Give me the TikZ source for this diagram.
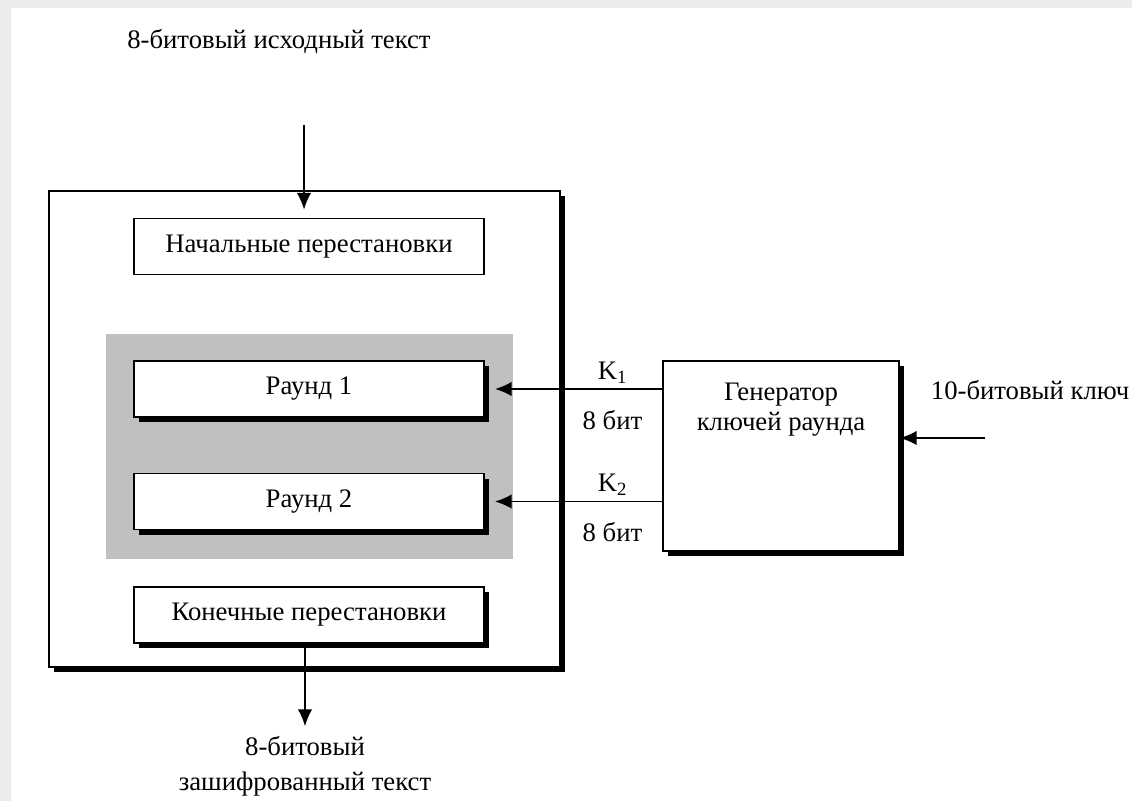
\documentclass[tikz,border=0pt]{standalone}
\usepackage{fontspec}
\setmainfont{Liberation Serif}
\usetikzlibrary{arrows.meta,shadows}
\definecolor{roundgray}{RGB}{192,192,192}
\tikzset{
    blk/.style={draw, fill=white, line width=1.2pt, minimum width=8.75cm, minimum height=1.4cm},
    shd/.style={drop shadow={shadow xshift=.13cm, shadow yshift=-.13cm, fill=black, opacity=1}},
    arr/.style={line width=1.2pt, -{Latex[length=.42cm, width=.36cm]}}
}

\begin{document}
\begin{tikzpicture}[x=0.025cm, y=-0.025cm, font=\fontsize{19}{24}\selectfont]

% page with grey edge
\fill[gray!15] (0,0) rectangle (1132,801);
\fill[white] (11,8) rectangle (1132,801);
\useasboundingbox (0,0) rectangle (1132,801);

% cipher frame and round area
\node[draw, fill=white, line width=1.2pt, shd, minimum width=12.775cm, minimum height=11.9cm] (sdes) at (304.5,429) {};
\node[fill=roundgray, minimum width=10.175cm, minimum height=5.625cm] (rounds) at (309.5,446.5) {};

% stages
\node[blk] (ip) at (309,246.5) {Начальные перестановки};
\node[blk, shd] (r1) at (309,389) {Раунд 1};
\node[blk, shd] (r2) at (309,501.5) {Раунд 2};
\node[blk, shd] (fp) at (309,615) {Конечные перестановки};

% key generator
\node[draw, fill=white, line width=1.2pt, shd, minimum width=5.9cm, minimum height=4.75cm,
    label={[align=center, below=13pt, font=\fontsize{19}{21}\selectfont]north:Генератор\\ключей раунда}] (gen) at (781,456) {};

% input and output
\node (src) at (279,42) {8-битовый исходный текст};
\coordinate (srcend) at (304,125);
\draw[arr, shorten >=.2cm] (srcend) -- (srcend |- ip.north);

\node[align=center, anchor=north, font=\fontsize{19}{25}\selectfont] (ct) at (305,731) {8-битовый\\зашифрованный текст};
\draw[arr, shorten >=.12cm] (fp.south -| ct.north) -- (ct.north);

% round keys
\draw[arr, shorten >=.25cm] (gen.west |- r1.east) -- node[pos=.28, above] {K\textsubscript{1}} node[pos=.28, below=11pt] {8 бит} (r1.east);
\draw[arr, shorten >=.25cm] (gen.west |- r2.east) -- node[pos=.28, above] {K\textsubscript{2}} node[pos=.28, below=11pt] {8 бит} (r2.east);

% 10-bit key
\node[anchor=east, inner sep=1pt] (key) at (1131,390) {10-битовый ключ};
\coordinate (keyin) at (985,438);
\draw[arr] (keyin) -- (keyin -| gen.east);

\end{tikzpicture}
\end{document}
